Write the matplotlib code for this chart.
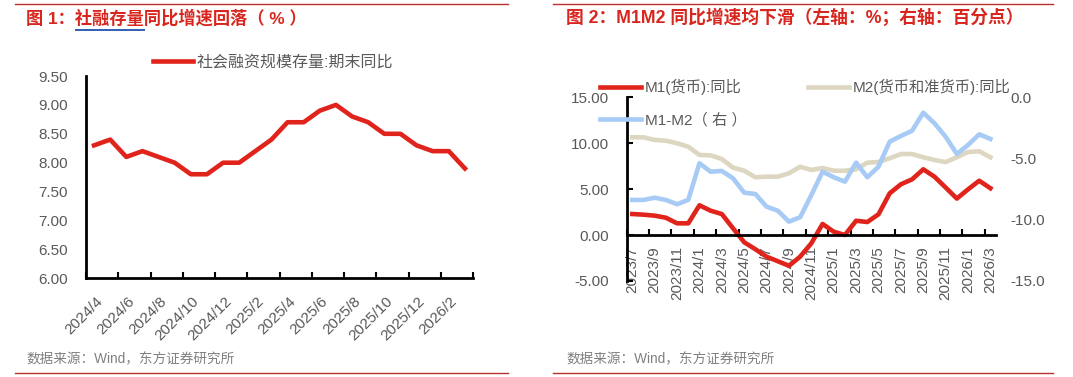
import numpy as np
import pandas as pd
import matplotlib
matplotlib.use('Agg')
import matplotlib.pyplot as plt
from matplotlib.lines import Line2D
from matplotlib.transforms import ScaledTranslation

FONTS = ['Liberation Sans', 'Noto Sans CJK SC', 'DejaVu Sans']
plt.rcParams['font.family'] = FONTS

RED = '#e0241c'
TITLE_RED = '#d8261e'
BEIGE = '#ddd6c0'
BLUE = '#a8cbf5'
GREY = '#595959'
RULE = '#b8322a'

# ── data: figure 1, TSF stock yoy (%) ───────────────────────────────────
tsf_months = [f"{p.year}/{p.month}" for p in pd.period_range('2024-04', '2026-03', freq='M')]
tsf_yoy = [8.3, 8.4, 8.1, 8.2, 8.1, 8.0, 7.8, 7.8, 8.0, 8.0, 8.2, 8.4,
           8.7, 8.7, 8.9, 9.0, 8.8, 8.7, 8.5, 8.5, 8.3, 8.2, 8.2, 7.9]

# ── data: figure 2, M1 / M2 yoy (%) and spread (ppt) ────────────────────
m_months = [f"{p.year}/{p.month}" for p in pd.period_range('2023-07', '2026-03', freq='M')]
m1_yoy = [2.28, 2.21, 2.10, 1.88, 1.27, 1.27, 3.23, 2.64, 2.28, 0.73, -0.79, -1.55,
          -2.36, -2.85, -3.35, -2.35, -0.90, 1.20, 0.36, 0.0, 1.55, 1.41, 2.25, 4.53,
          5.51, 6.05, 7.14, 6.34, 5.16, 3.96, 4.96, 5.90, 5.08]
m2_yoy = [10.62, 10.62, 10.33, 10.25, 9.97, 9.60, 8.70, 8.66, 8.26, 7.32, 6.99, 6.27,
          6.34, 6.34, 6.71, 7.42, 7.07, 7.28, 6.99, 6.99, 7.14, 7.86, 7.93, 8.34,
          8.80, 8.80, 8.45, 8.15, 7.93, 8.45, 9.02, 9.10, 8.45]
m1_m2 = [-8.39, -8.39, -8.21, -8.39, -8.74, -8.39, -5.40, -6.09, -6.03, -6.63, -7.80, -7.91,
         -8.94, -9.27, -10.16, -9.80, -7.99, -6.09, -6.54, -6.90, -5.35, -6.54, -5.68, -3.64,
         -3.18, -2.75, -1.28, -2.14, -3.24, -4.65, -3.91, -3.04, -3.42]

W, H = 1073, 377
fig = plt.figure(figsize=(W / 100, H / 100), dpi=100)


def fx(px):
    return px / W


def fy(py):
    return 1 - py / H


# page furniture: rules, titles, sources
for x0, x1 in [(15, 508), (553, 1053)]:
    fig.add_artist(Line2D([fx(x0), fx(x1)], [fy(4.3)] * 2, color=RULE, lw=1))
    fig.add_artist(Line2D([fx(x0), fx(x1)], [fy(373)] * 2, color=RULE, lw=1))

fig.text(fx(26), fy(18), '图 1：社融存量同比增速回落（ % ）', color=TITLE_RED,
         fontsize=12.4, fontweight='bold', va='center')
fig.text(fx(566), fy(18), '图 2：M1M2 同比增速均下滑（左轴：%；右轴：百分点）', color=TITLE_RED,
         fontsize=12.8, fontweight='bold', va='center')
for yy in (28.7, 30.4):
    fig.add_artist(Line2D([fx(75), fx(144)], [fy(yy)] * 2, color='#2f5fb3', lw=0.7))
for xx in (26, 566):
    fig.text(fx(xx), fy(359), '数据来源：Wind，东方证券研究所', color='#808080',
             fontsize=9.8, va='center')

# ── figure 1 ────────────────────────────────────────────────────────────
ax1 = fig.add_axes([fx(86), fy(278.3), fx(387), 202.3 / H])
x1 = np.arange(len(tsf_yoy))
ax1.plot(x1, tsf_yoy, color=RED, lw=3.3, label='社会融资规模存量:期末同比')
ax1.set_xlim(-0.5, len(x1) - 0.5)
ax1.set_ylim(6, 9.5)
ax1.set_yticks(np.arange(6, 9.51, 0.5))
ax1.yaxis.set_major_formatter(lambda v, p: f'{v:.2f}')
ax1.tick_params(axis='y', length=0, labelsize=11, labelcolor=GREY, pad=13)
ax1.set_xticks(np.arange(-0.5, len(x1), 2))
ax1.set_xticklabels([])
ax1.set_xticks(x1[::2], minor=True)
ax1.set_xticklabels(tsf_months[::2], minor=True, rotation=45, ha='right',
                    va='center', rotation_mode='anchor')
ax1.tick_params(axis='x', which='major', direction='in', length=4, width=1.5)
ax1.tick_params(axis='x', which='minor', length=0, pad=15, labelsize=11, labelcolor=GREY)
for lab in ax1.get_xticklabels(minor=True):
    lab.set_transform(lab.get_transform() + ScaledTranslation(0.06, 0, fig.dpi_scale_trans))
for s in ['top', 'right']:
    ax1.spines[s].set_visible(False)
for s in ['left', 'bottom']:
    ax1.spines[s].set_linewidth(2)
ax1.legend(loc='center left', bbox_to_anchor=(fx(153), fy(61.7)), bbox_transform=fig.transFigure,
           frameon=False, fontsize=11.5, handlelength=2.5, handletextpad=0.25,
           borderpad=0, borderaxespad=0, labelcolor=GREY)

# ── figure 2 ────────────────────────────────────────────────────────────
ax2 = fig.add_axes([fx(626.7), fy(281), fx(369.3), 184 / H])
x2 = np.arange(len(m1_yoy))
l_m2, = ax2.plot(x2, m2_yoy, color=BEIGE, lw=3.3, label='M2(货币和准货币):同比')
l_m1, = ax2.plot(x2, m1_yoy, color=RED, lw=3.3, label='M1(货币):同比')
ax2.set_xlim(-0.5, len(x2) - 0.5)
ax2.set_ylim(-5, 15)
ax2.set_yticks([-5, 0, 5, 10, 15])
ax2.yaxis.set_major_formatter(lambda v, p: f'{v:.2f}')
ax2.tick_params(axis='y', direction='in', length=4, width=1.5, labelsize=11,
                labelcolor=GREY, pad=13)
ax2.spines['bottom'].set_position(('data', 0))
ax2.set_xticks(np.arange(-0.5, len(x2) - 1, 2))
ax2.set_xticklabels([])
ax2.set_xticks(x2[::2], minor=True)
ax2.set_xticklabels(m_months[::2], minor=True, rotation=90)
ax2.tick_params(axis='x', which='major', direction='in', length=4, width=1.5)
ax2.tick_params(axis='x', which='minor', length=0, pad=8, labelsize=11, labelcolor=GREY)
for s in ['top', 'right']:
    ax2.spines[s].set_visible(False)
for s in ['left', 'bottom']:
    ax2.spines[s].set_linewidth(2)

ax3 = ax2.twinx()
l_sp, = ax3.plot(x2, m1_m2, color=BLUE, lw=3.3, label='M1-M2（ 右 ）')
ax3.set_ylim(-15, 0)
ax3.set_yticks([-15, -10, -5, 0])
ax3.yaxis.set_major_formatter(lambda v, p: f'{v:.1f}')
ax3.tick_params(axis='y', length=0, labelsize=11, labelcolor=GREY, pad=10)
for s in ax3.spines.values():
    s.set_visible(False)

ax3.legend(handles=[l_m1, l_sp, l_m2], ncol=2, loc='upper left',
           bbox_to_anchor=(fx(600), fy(79)), bbox_transform=fig.transFigure,
           frameon=False, fontsize=11, handlelength=2.7, handletextpad=0.25,
           columnspacing=4.0, labelspacing=1.15, borderpad=0, borderaxespad=0,
           labelcolor=GREY)

fig.savefig('out.png', dpi=100, facecolor='white')
